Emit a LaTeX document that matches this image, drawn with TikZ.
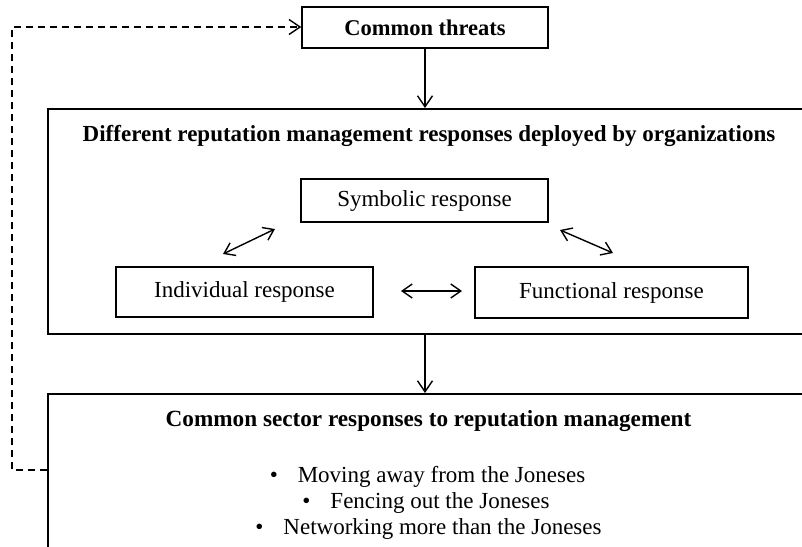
\documentclass[tikz,border=0pt]{standalone}
\usepackage{fontspec}
\setmainfont{Liberation Serif}
\usetikzlibrary{arrows.meta}
\begin{document}
\begin{tikzpicture}[x=1pt,y=-1pt,
  box/.style={draw, line width=1.5pt, inner sep=0pt, font=\fontsize{23}{26}\selectfont},
  ttl/.style={font=\fontsize{23}{26}\selectfont\bfseries, inner sep=0pt, anchor=base},
  txt/.style={font=\fontsize{23}{26}\selectfont, inner sep=0pt, anchor=base},
  arr/.style={line width=1.4pt, -{Straight Barb[length=11pt,width=15pt]}},
  darr/.style={line width=1.4pt, {Straight Barb[length=10pt,width=14pt]}-{Straight Barb[length=10pt,width=14pt]}},
  dashline/.style={line width=1.4pt, dash pattern=on 7pt off 5pt}
]
\clip (0,0) rectangle (802,546);
\fill[white] (0,0) rectangle (802,546);

\node[box, minimum width=246pt, minimum height=41pt, font=\fontsize{22.5}{26}\selectfont\bfseries] (ct) at (425,27.5) {Common threats};
\node[box, anchor=north west, minimum width=780pt, minimum height=225pt] (mid) at (47,108) {};
\node[ttl] (midt) at (429,141) {Different reputation management responses deployed by organizations};

\node[box, minimum width=247pt, minimum height=43pt] (sym) at (424.5,200.5) {Symbolic response};
\node[box, minimum width=257pt, minimum height=50pt] (ind) at (244.5,292) {Individual response};
\node[box, minimum width=273pt, minimum height=51pt] (fun) at (611.5,292.5) {Functional response};

\node[box, anchor=north west, minimum width=780pt, minimum height=200pt] (bot) at (47,393) {};
\node[ttl, font=\fontsize{23.2}{26}\selectfont\bfseries] (bott) at (428.5,426) {Common sector responses to reputation management};

\node[txt] (b1) at (427.5,482) {•\hspace{20pt}Moving away from the Joneses};
\node[txt] (b2) at (426,508) {•\hspace{20pt}Fencing out the Joneses};
\node[txt] (b3) at (428.5,534) {•\hspace{20pt}Networking more than the Joneses};

\coordinate (l1) at (223,254);
\coordinate (l2) at (275,229);
\coordinate (r1) at (560,230);
\coordinate (r2) at (613,253);
\coordinate (h1) at (401,291);
\coordinate (h2) at (462,291);
\draw[darr] (l1) -- (l2);
\draw[darr] (r1) -- (r2);
\draw[darr] (h1) -- (h2);

\draw[arr] (ct.south) -- (ct.south |- mid.north);
\draw[arr] (ct.south |- mid.south) -- (ct.south |- bot.north);

\coordinate (d1) at (12,470);
\coordinate (d2) at (12,27);
\draw[dashline, -{Straight Barb[length=11pt,width=15pt]}] (bot.west |- d1) -- (d1) -- (d2) -- (ct.west |- d2);
\end{tikzpicture}
\end{document}
